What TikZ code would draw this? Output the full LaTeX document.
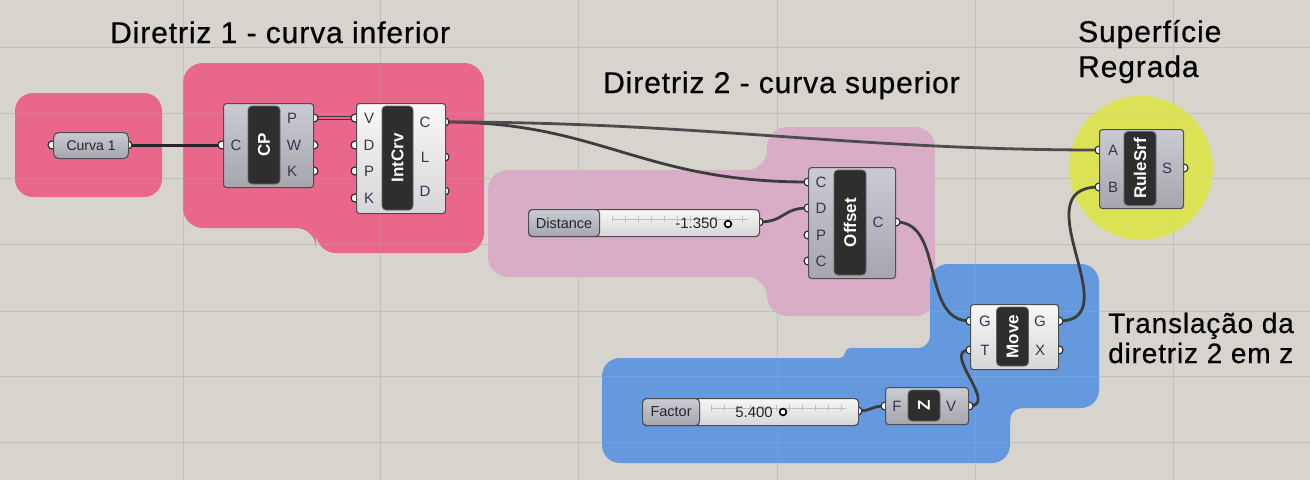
\documentclass[tikz,border=0pt]{standalone}
\usepackage{fontspec}
\setmainfont{Liberation Sans}
\newfontfamily\titlefont[LetterSpace=3,FakeBold=0.6]{Liberation Sans}
\usetikzlibrary{calc}

\definecolor{bgc}{HTML}{D7D4CD}
\definecolor{gridc}{HTML}{C3C0B8}
\definecolor{grpred}{HTML}{E8678A}
\definecolor{grppink}{HTML}{D8ADC5}
\definecolor{grpblue}{HTML}{6499DE}
\definecolor{grpyel}{HTML}{DCE256}
\definecolor{wirec}{HTML}{3C3C3C}
\definecolor{lblc}{HTML}{3A3450}
\definecolor{edgec}{HTML}{4E4E52}
\definecolor{gtop}{HTML}{CBCBD3}
\definecolor{gbot}{HTML}{A5A5AE}
\definecolor{wtop}{HTML}{F8F8F8}
\definecolor{wbot}{HTML}{D6D6D8}
\definecolor{barc}{HTML}{2E2E2E}

\begin{document}
\begin{tikzpicture}[x=1pt,y=-1pt,
  wire/.style={draw=wirec, line width=2.8pt, line cap=round},
  gripc/.style={draw=black!85, fill=white, line width=1.1pt},
  grayc/.style={draw=edgec, line width=1.1pt, rounded corners=3pt, top color=gtop, bottom color=gbot, inner sep=0pt, anchor=north west},
  whitec/.style={draw=edgec, line width=1.1pt, rounded corners=3pt, top color=wtop, bottom color=wbot, inner sep=0pt, anchor=north west},
  barnode/.style={fill=barc, draw=black!60, line width=0.8pt, rounded corners=4pt, rotate=90, text=white, inner sep=0pt, font=\fontsize{17}{19}\selectfont\bfseries},
  plab/.style={text=lblc, inner sep=0pt, font=\fontsize{15}{17}\selectfont},
  slab/.style={text=black!85, inner sep=0pt, font=\fontsize{14.5}{16}\selectfont},
  title/.style={inner sep=0pt, anchor=base west, text=black},
  tick/.style={draw=black!25, line width=0.6pt}
]
% canvas
\fill[bgc] (0,0) rectangle (1310,480);
\useasboundingbox (0,0) rectangle (1310,480);
\foreach \gx in {183,380,578,777,975,1173} \draw[gridc, line width=1pt] (\gx,0) -- (\gx,480);
\foreach \gy in {47,113,178,244,311,376,442} \draw[gridc, line width=1pt] (0,\gy) -- (1310,\gy);

% groups
\fill[grpred, rounded corners=18pt] (15,93) rectangle (162,197);
\fill[grpred, rounded corners=20pt] (330,63) -- (484,63) -- (484,253) -- (316,253) -- (316,228) -- (183,228) -- (183,63) -- cycle;
\fill[grppink, rounded corners=20pt] (620,170) -- (767,170) -- (767,127) -- (935,127) -- (935,316) -- (767,316) -- (767,277) -- (488,277) -- (488,170) -- cycle;
\fill[grpblue, rounded corners=18pt] (930,264) rectangle (1099,408);
\fill[grpblue, rounded corners=18pt] (602,358) rectangle (1010,463);
\fill[grpblue, rounded corners=5pt] (845,348) rectangle (1010,430);
\fill[grpblue] (930,348) -- (930,336) .. controls (930,342.6) and (924.6,348) .. (918,348) -- cycle;
\fill[grpblue] (1010,408) -- (1022,408) .. controls (1015.4,408) and (1010,413.4) .. (1010,420) -- cycle;
\fill[grpblue] (845,358) -- (845,353) .. controls (845,355.8) and (842.2,358) .. (840,358) -- cycle;
\fill[grpyel] (1141,168) circle[radius=72pt];
\foreach \gx in {183,380,578,777,975,1173} \draw[gridc, line width=1pt, opacity=0.18] (\gx,0) -- (\gx,480);
\foreach \gy in {47,113,178,244,311,376,442} \draw[gridc, line width=1pt, opacity=0.18] (0,\gy) -- (1310,\gy);

% grip coordinates
\coordinate (cv-out) at (128,145);
\coordinate (cv-in) at (52,145);
\coordinate (cp-C) at (222,145);
\coordinate (cp-P) at (314,118);
\coordinate (cp-W) at (314,145);
\coordinate (cp-K) at (314,171);
\coordinate (ic-V) at (355,118);
\coordinate (ic-D) at (355,145);
\coordinate (ic-P) at (355,171);
\coordinate (ic-K) at (355,198);
\coordinate (ic-C) at (445,122);
\coordinate (ic-L) at (445,157);
\coordinate (ic-Do) at (445,191);
\coordinate (di-out) at (759,222);
\coordinate (of-C) at (808,182);
\coordinate (of-D) at (808,208);
\coordinate (of-P) at (808,235);
\coordinate (of-C2) at (808,261);
\coordinate (of-out) at (896,222);
\coordinate (fa-out) at (858,411);
\coordinate (z-F) at (885,406);
\coordinate (z-V) at (969,406);
\coordinate (mv-G) at (970,321);
\coordinate (mv-T) at (970,350);
\coordinate (mv-Go) at (1059,321);
\coordinate (mv-X) at (1059,350);
\coordinate (rs-A) at (1099,150);
\coordinate (rs-B) at (1099,187);
\coordinate (rs-S) at (1184,168);

% wires
\draw[wire, draw=black!85, line width=3pt] (cv-out) -- (cp-C);
\draw[draw=wirec, line width=1pt, double=grpred, double distance=1.6pt] (cp-P) -- (ic-V);
\draw[wire] (ic-C) .. controls +(155,0) and +(-167,0) .. (of-C);
\draw[wire, draw=black!70] (ic-C) .. controls +(255,0) and +(-248,0) .. (rs-A);
\draw[wire] (di-out) .. controls +(26,0) and +(-26,0) .. (of-D);
\draw[wire] (of-out) .. controls +(49,0) and +(-50,0) .. (mv-G);
\draw[wire] (fa-out) .. controls +(14,0) and +(-14,0) .. (z-F);
\draw[wire] (z-V) .. controls +(31,0) and +(-30,0) .. (mv-T);
\draw[wire] (mv-Go) .. controls +(71,0) and +(-79,0) .. (rs-B);

% grips
\foreach \g in {cv-out,cv-in,cp-C,cp-P,cp-W,cp-K,ic-V,ic-D,ic-P,ic-K,ic-C,ic-L,ic-Do,di-out,of-C,of-D,of-P,of-C2,of-out,fa-out,z-F,z-V,mv-G,mv-T,mv-Go,mv-X,rs-A,rs-B,rs-S}
  \draw[gripc] (\g) circle[radius=4pt];

% Curva 1
\node[grayc, rounded corners=5pt, minimum width=75pt, minimum height=26pt, font=\fontsize{14}{16}\selectfont, text=black!85] (curva) at (53,132) {Curva 1};

% CP
\node[grayc, minimum width=90pt, minimum height=84pt] (cp) at (223,103) {};
\node[barnode, minimum width=78pt, minimum height=32pt] (cpbar) at (264,145) {CP};
\node[plab] (cpl1) at (236,145) {C};
\node[plab] (cpl2) at (292,118) {P};
\node[plab] (cpl3) at (294,145) {W};
\node[plab] (cpl4) at (292,171) {K};

% IntCrv
\node[whitec, minimum width=89pt, minimum height=110pt] (ic) at (356,103) {};
\node[barnode, minimum width=104pt, minimum height=31pt] (icbar) at (397.5,158) {IntCrv};
\node[plab] (icl1) at (369,118) {V};
\node[plab] (icl2) at (369,145) {D};
\node[plab] (icl3) at (369,171) {P};
\node[plab] (icl4) at (369,198) {K};
\node[plab] (icl5) at (425,122) {C};
\node[plab] (icl6) at (425,157) {L};
\node[plab] (icl7) at (425,191) {D};

% Distance slider
\node[whitec, rounded corners=4pt, minimum width=231pt, minimum height=27pt] (dist) at (528,209) {};
\node[grayc, rounded corners=4pt, minimum width=71pt, minimum height=27pt, slab] (distlab) at (528,209) {Distance};
\draw[tick] (612,219) -- (748,219);
\foreach \tx in {612,625,638,651,664,677,690,703,716,729,742} \draw[tick] (\tx,216) -- (\tx,222);
\node[slab, anchor=east, font=\fontsize{15}{17}\selectfont] (distval) at (718,223) {-1.350};
\draw[draw=black, fill=white, line width=1.6pt] (728,224) circle[radius=3.4pt];

% Offset
\node[grayc, minimum width=87pt, minimum height=111pt] (off) at (808,167) {};
\node[barnode, minimum width=105pt, minimum height=32pt] (offbar) at (850,222.5) {Offset};
\node[plab] (ofl1) at (821,182) {C};
\node[plab] (ofl2) at (821,208) {D};
\node[plab] (ofl3) at (821,235) {P};
\node[plab] (ofl4) at (821,261) {C};
\node[plab] (ofl5) at (878,222) {C};

% Factor slider
\node[whitec, rounded corners=4pt, minimum width=216pt, minimum height=27pt] (fac) at (642,398) {};
\node[grayc, rounded corners=4pt, minimum width=57pt, minimum height=27pt, slab] (faclab) at (642,398) {Factor};
\draw[tick] (711,408) -- (846,408);
\foreach \tx in {711,724,737,750,763,776,789,802,815,828,841} \draw[tick] (\tx,405) -- (\tx,411);
\node[slab, anchor=east, font=\fontsize{15}{17}\selectfont] (facval) at (773,412) {5.400};
\draw[draw=black, fill=white, line width=1.6pt] (783,412) circle[radius=3.4pt];

% Unit Z
\node[grayc, minimum width=83pt, minimum height=37pt] (uz) at (885,387) {};
\node[barnode, minimum width=31pt, minimum height=32pt] (uzbar) at (924,405.5) {Z};
\node[plab] (uzl1) at (897,406) {F};
\node[plab] (uzl2) at (951,406) {V};

% Move
\node[whitec, minimum width=88pt, minimum height=65pt] (mv) at (970,304) {};
\node[barnode, minimum width=59pt, minimum height=32pt] (mvbar) at (1012.5,336.5) {Move};
\node[plab] (mvl1) at (985,321) {G};
\node[plab] (mvl2) at (985,350) {T};
\node[plab] (mvl3) at (1040,321) {G};
\node[plab] (mvl4) at (1040,350) {X};

% RuleSrf
\node[grayc, minimum width=84pt, minimum height=79pt] (rs) at (1099,129) {};
\node[barnode, minimum width=74pt, minimum height=32pt] (rsbar) at (1140,168.5) {RuleSrf};
\node[plab] (rsl1) at (1113,150) {A};
\node[plab] (rsl2) at (1113,187) {B};
\node[plab] (rsl3) at (1167,168) {S};

% titles
\node[title, font=\titlefont\fontsize{30}{35}\selectfont] (t1) at (110,43) {Diretriz 1 - curva inferior};
\node[title, font=\titlefont\fontsize{30}{35}\selectfont] (t2) at (603,93) {Diretriz 2 - curva superior};
\node[title, font=\titlefont\fontsize{30}{35}\selectfont] (t3a) at (1078,42) {Superfície};
\node[title, font=\titlefont\fontsize{30}{35}\selectfont] (t3b) at (1078,77) {Regrada};
\node[title, font=\titlefont\fontsize{28}{30}\selectfont] (t4a) at (1108,333) {Translação da};
\node[title, font=\titlefont\fontsize{28}{30}\selectfont] (t4b) at (1108,363) {diretriz 2 em z};
\end{tikzpicture}
\end{document}
